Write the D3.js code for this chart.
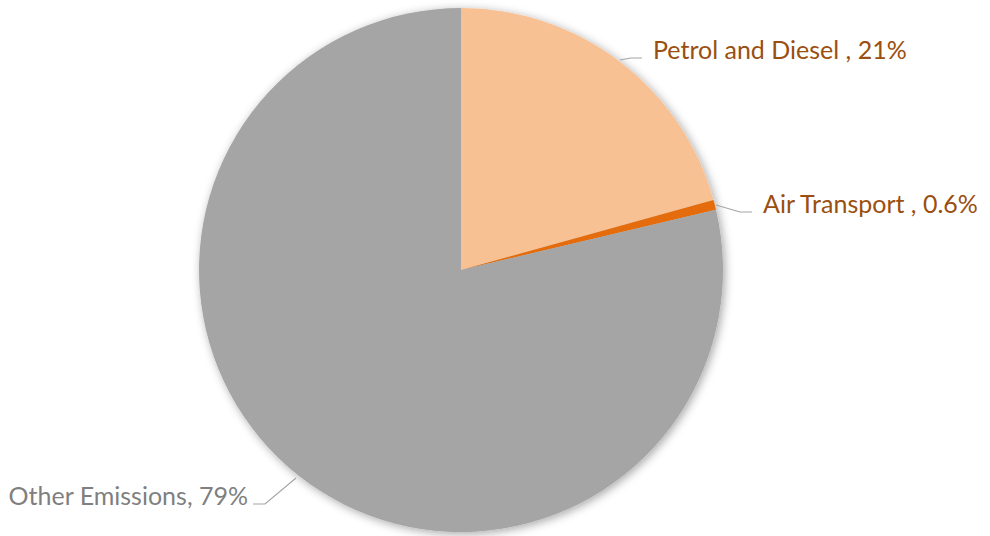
<!DOCTYPE html>
<html>
<head>
<meta charset="utf-8">
<script src="https://cdn.jsdelivr.net/npm/d3@7"></script>
<style>
  html, body { margin: 0; padding: 0; background: #fff; }
  svg { display: block; }
  text { font-family: Lato, "Open Sans", sans-serif; }
</style>
</head>
<body>
<script>
var width = 990, height = 536;

// slice data, clockwise from 12 o'clock
var categories = ["Petrol and Diesel ", "Air Transport ", "Other Emissions"];
var values = [20.7, 0.6, 78.7];
var sliceColors = ["#F8C193", "#E46C0A", "#A5A5A5"];
var labelColors = ["#9A4F10", "#9A4F10", "#7F7F7F"];

var cx = 461, cy = 270, radius = 262;

var svg = d3.select("body").append("svg")
    .attr("width", width).attr("height", height);

var defs = svg.append("defs");
var f = defs.append("filter").attr("id", "shadow")
    .attr("x", "-20%").attr("y", "-20%").attr("width", "140%").attr("height", "140%");
f.append("feDropShadow").attr("dx", 2).attr("dy", 2).attr("stdDeviation", 5)
    .attr("flood-color", "#000").attr("flood-opacity", 0.35);

var total = d3.sum(values);
var fmtPct = function(v) {
  var p = v / total * 100;
  return p < 1 ? d3.format(".1f")(p) + "%" : d3.format(".0f")(p) + "%";
};

var pie = d3.pie().sort(null).value(function(d) { return d; });
var arcs = pie(values);
var arc = d3.arc().innerRadius(0).outerRadius(radius);

var g = svg.append("g").attr("transform", "translate(" + cx + "," + cy + ")");

g.append("g").attr("filter", "url(#shadow)")
  .selectAll("path")
  .data(arcs)
  .enter().append("path")
    .attr("d", arc)
    .attr("fill", function(d, i) { return sliceColors[i]; });

// label placement (relative to pie centre) picked to match the original
var labelPos = [
  { line: [[159, -210], [170, -212], [181, -212]], x: 192, y: -211, anchor: "start" },
  { line: [[255, -65], [279, -58], [291, -58]], x: 302, y: -57, anchor: "start" },
  { line: [[-165, 208], [-196, 234], [-208, 234]], x: -213, y: 235, anchor: "end" }
];

var line = d3.line();
g.selectAll(".leader")
  .data(labelPos)
  .enter().append("path")
    .attr("class", "leader")
    .attr("d", function(d) { return line(d.line); })
    .attr("fill", "none")
    .attr("stroke", "#A6A6A6")
    .attr("stroke-width", 1.2);

g.selectAll(".lbl")
  .data(arcs)
  .enter().append("text")
    .attr("class", "lbl")
    .attr("x", function(d, i) { return labelPos[i].x; })
    .attr("y", function(d, i) { return labelPos[i].y; })
    .attr("text-anchor", function(d, i) { return labelPos[i].anchor; })
    .attr("fill", function(d, i) { return labelColors[i]; })
    .style("font-size", "25px")
    .text(function(d, i) { return categories[i] + ", " + fmtPct(d.value); });
</script>
</body>
</html>
